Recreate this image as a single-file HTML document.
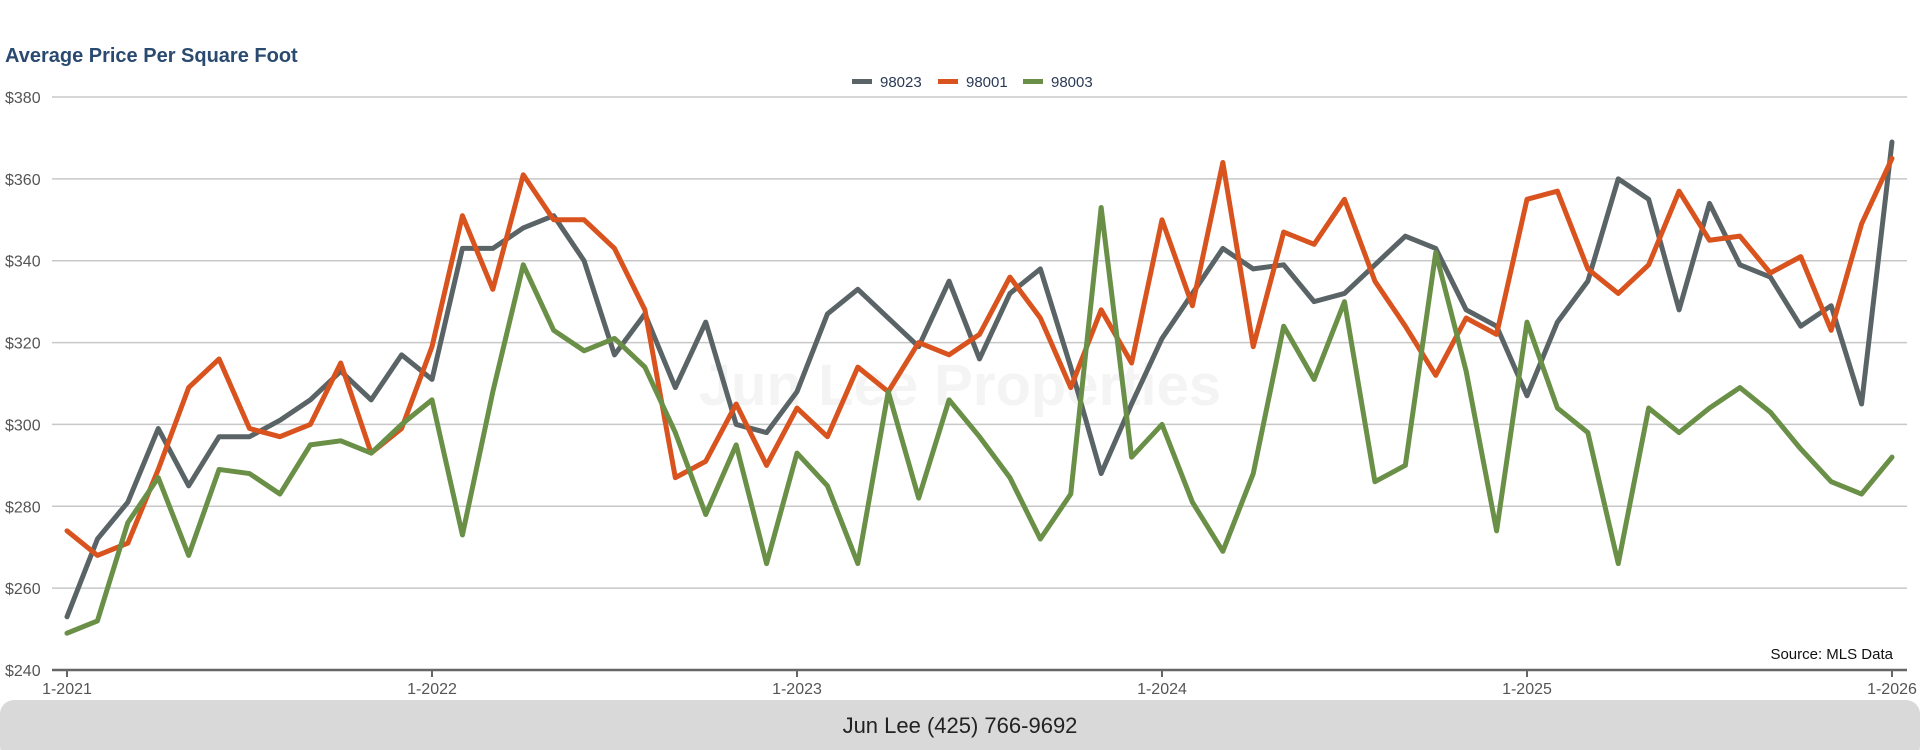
<!DOCTYPE html>
<html><head><meta charset="utf-8">
<style>
html,body{margin:0;padding:0;background:#fff;width:1920px;height:750px;overflow:hidden;font-family:"Liberation Sans",sans-serif;}
</style></head>
<body>
<svg id="chart" width="1920" height="750" viewBox="0 0 1920 750" xmlns="http://www.w3.org/2000/svg">
<text x="5" y="62" font-size="20" font-weight="bold" fill="#2a4a70">Average Price Per Square Foot</text>
<text x="960" y="405" font-size="58" font-weight="bold" fill="#f4f4f4" text-anchor="middle">Jun Lee Properties</text>
<g id="grid"></g><g id="xaxis"></g><g id="lines"></g>
<g id="legend"></g>
<text x="1893" y="659" font-size="15" fill="#111" text-anchor="end">Source: MLS Data</text>
<rect x="0" y="700" width="1920" height="60" rx="14" fill="#d9d9d9"/>
<text x="960" y="733" font-size="22" fill="#222" text-anchor="middle">Jun Lee (425) 766-9692</text>
</svg>
<script>
const yTicks=[240,260,280,300,320,340,360,380];
const xTickLabels=["1-2021","1-2022","1-2023","1-2024","1-2025","1-2026"];
const xTickIdx=[0,12,24,36,48,60];
const seriesNames=["98023","98001","98003"];
const s98023=[253,272,281,299,285,297,297,301,306,313,306,317,311,343,343,348,351,340,317,327,309,325,300,298,308,327,333,326,319,335,316,332,338,314,288,305,321,332,343,338,339,330,332,339,346,343,328,324,307,325,335,360,355,328,354,339,336,324,329,305,369];
const s98001=[274,268,271,289,309,316,299,297,300,315,293,299,319,351,333,361,350,350,343,328,287,291,305,290,304,297,314,308,320,317,322,336,326,309,328,315,350,329,364,319,347,344,355,335,324,312,326,322,355,357,338,332,339,357,345,346,337,341,323,349,365];
const s98003=[249,252,276,287,268,289,288,283,295,296,293,300,306,273,308,339,323,318,321,314,298,278,295,266,293,285,266,308,282,306,297,287,272,283,353,292,300,281,269,288,324,311,330,286,290,342,313,274,325,304,298,266,304,298,304,309,303,294,286,283,292];
const colors=["#5a6466","#d9531e","#6a8f47"];
const X0=67,X1=1892,Y0=670,Y1=97,VMIN=240,VMAX=380,N=60;
const xs=i=>X0+(X1-X0)*i/N;
const ys=v=>Y0-(v-VMIN)/(VMAX-VMIN)*(Y0-Y1);
const NS="http://www.w3.org/2000/svg";
function mk(t,a,p){const e=document.createElementNS(NS,t);for(const k in a)e.setAttribute(k,a[k]);p.appendChild(e);return e;}
const grid=document.getElementById('grid');
yTicks.forEach(v=>{
  const l=mk('line',{x1:52,x2:1907,y1:ys(v),y2:ys(v),stroke:v===240?'#666':'#c8c8c8','stroke-width':v===240?2.5:1.5},grid);
  
  
  const t=mk('text',{x:5,y:ys(v)+6,'font-size':16,fill:'#555'},grid);
  t.textContent='$'+v;
  
  
});
const xa=document.getElementById('xaxis');
xTickIdx.forEach((idx,k)=>{
  const tk=mk('line',{x1:xs(idx),x2:xs(idx),y1:Y0,y2:Y0+7,stroke:'#666','stroke-width':2},xa);
  
  
  const t=mk('text',{x:xs(idx),y:Y0+24,'font-size':16,fill:'#555','text-anchor':'middle'},xa);
  t.textContent=xTickLabels[k];
  
  
});
const lines=document.getElementById('lines');
[s98023,s98001,s98003].forEach((s,k)=>{
  const p=mk('polyline',{points:s.map((v,i)=>xs(i)+','+ys(v)).join(' '),fill:'none',stroke:colors[k],'stroke-width':5,'stroke-linejoin':'round','stroke-linecap':'round'},lines);
  
  
});
const lg=document.getElementById('legend');
const lx=[852,938,1023];
seriesNames.forEach((n,k)=>{
  const g=mk('g',{},lg);
  
  
  mk('rect',{x:lx[k],y:79,width:20,height:5,fill:colors[k]},g);
  const t=mk('text',{x:lx[k]+28,y:87,'font-size':15,fill:'#2a3a55'},g);
  t.textContent=n;
});
</script>
</body></html>
